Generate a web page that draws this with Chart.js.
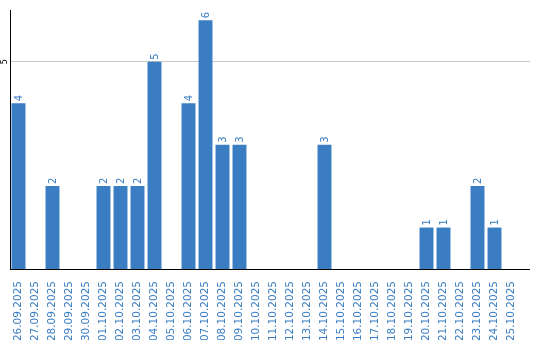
<!DOCTYPE html>
<html>
<head>
<meta charset="utf-8">
<script src="https://cdn.jsdelivr.net/npm/chart.js@4/dist/chart.umd.min.js"></script>
<style>
  html, body { margin: 0; padding: 0; background: #fff; }
  #wrap { width: 540px; height: 340px; }
</style>
</head>
<body>
<div id="wrap"><canvas id="chart"></canvas></div>
<script>
// dane wykresu
const days = [
    '26.09.2025', '27.09.2025', '28.09.2025', '29.09.2025', '30.09.2025',
    '01.10.2025', '02.10.2025', '03.10.2025', '04.10.2025', '05.10.2025',
    '06.10.2025', '07.10.2025', '08.10.2025', '09.10.2025', '10.10.2025',
    '11.10.2025', '12.10.2025', '13.10.2025', '14.10.2025', '15.10.2025',
    '16.10.2025', '17.10.2025', '18.10.2025', '19.10.2025', '20.10.2025',
    '21.10.2025', '22.10.2025', '23.10.2025', '24.10.2025', '25.10.2025'
];
const counts = [4, 0, 2, 0, 0, 2, 2, 2, 5, 0, 4, 6, 3, 3, 0, 0, 0, 0, 3, 0, 0, 0, 0, 0, 1, 1, 0, 2, 1, 0];
const yTicks = [5];

const blue = '#3a7dc3';

// wyrównanie linii 1px tak jak w Chart.js
const align = p => Math.round(p - 0.5) + 0.5;

// etykiety nad słupkami, obrócona etykieta osi Y, przedłużenie linii
const barLabels = {
    id: 'barLabels',
    beforeDatasetsDraw(chart) {
        const ctx = chart.ctx;
        const a = chart.chartArea;
        const y = chart.scales.y;
        ctx.save();
        ctx.strokeStyle = '#c8c8c8';
        ctx.lineWidth = 1;
        yTicks.forEach(v => {
            const py = align(y.getPixelForValue(v));
            ctx.beginPath();
            ctx.moveTo(a.right, py);
            ctx.lineTo(a.right + 10, py);
            ctx.stroke();
        });
        ctx.restore();
    },
    afterDatasetsDraw(chart) {
        const ctx = chart.ctx;
        const meta = chart.getDatasetMeta(0);
        ctx.save();
        ctx.font = '10px "DejaVu Sans"';
        ctx.fillStyle = blue;
        ctx.textAlign = 'left';
        ctx.textBaseline = 'alphabetic';
        meta.data.forEach((bar, i) => {
            if (!counts[i]) return;
            ctx.save();
            ctx.translate(bar.x + 3.6, bar.y - 2);
            ctx.rotate(-Math.PI / 2);
            ctx.fillText(String(counts[i]), 0, 0);
            ctx.restore();
        });
        // oś Y
        const y = chart.scales.y;
        ctx.font = '8px "DejaVu Sans"';
        ctx.fillStyle = '#000';
        ctx.textAlign = 'center';
        yTicks.forEach(v => {
            ctx.save();
            ctx.translate(7, y.getPixelForValue(v));
            ctx.rotate(-Math.PI / 2);
            ctx.fillText(String(v), 0, 0);
            ctx.restore();
        });
        // przedłużenie osi X
        const a = chart.chartArea;
        const by = align(chart.scales.x.top);
        ctx.strokeStyle = '#000';
        ctx.lineWidth = 1;
        ctx.beginPath();
        ctx.moveTo(a.right - 1, by);
        ctx.lineTo(a.right + 10, by);
        ctx.stroke();
        ctx.restore();
    }
};

new Chart(document.getElementById('chart'), {
    type: 'bar',
    data: {
        labels: days,
        datasets: [{
            data: counts,
            backgroundColor: blue,
            categoryPercentage: 1,
            barPercentage: 0.82
        }]
    },
    options: {
        responsive: true,
        maintainAspectRatio: false,
        animation: false,
        layout: { padding: { top: 10, right: 20, left: 0, bottom: 0 } },
        plugins: {
            legend: { display: false },
            tooltip: { enabled: false }
        },
        scales: {
            x: {
                grid: { display: false },
                border: { display: true, color: '#000', width: 1 },
                ticks: {
                    color: blue,
                    font: { family: 'DejaVu Sans', size: 10.5 },
                    minRotation: 90,
                    maxRotation: 90,
                    autoSkip: false,
                    padding: 4
                },
                afterFit(scale) { scale.height = 71; }
            },
            y: {
                min: 0,
                max: 6.25,
                afterBuildTicks(scale) { scale.ticks = yTicks.map(v => ({ value: v })); },
                ticks: { display: false },
                grid: { color: '#c8c8c8', drawTicks: false },
                border: { display: true, color: '#000', width: 1 },
                afterFit(scale) { scale.width = 10; }
            }
        }
    },
    plugins: [barLabels]
});
</script>
</body>
</html>
